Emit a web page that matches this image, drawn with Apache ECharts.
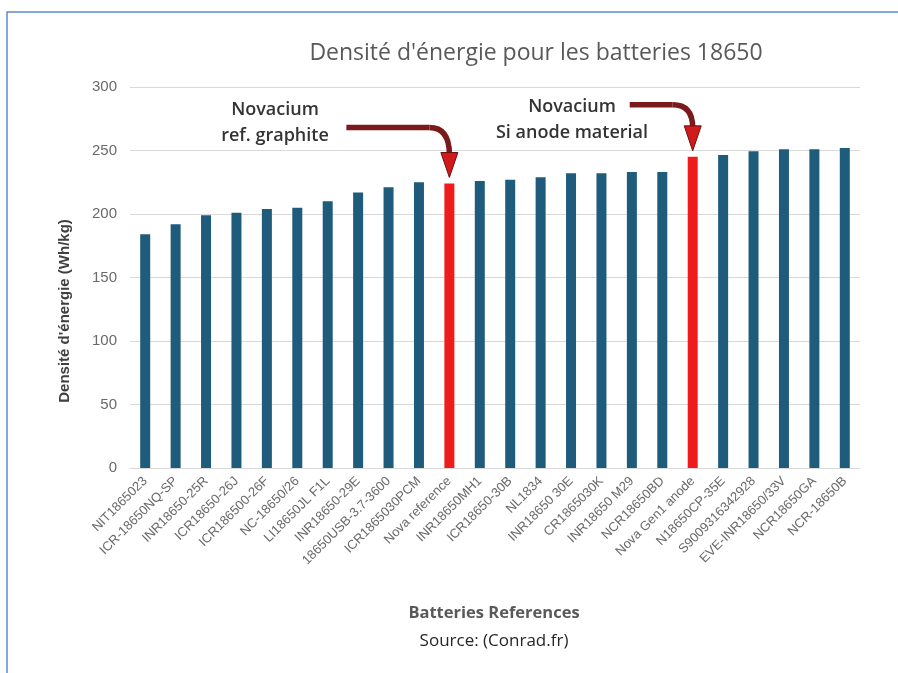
<!DOCTYPE html>
<html>
<head>
<meta charset="utf-8">
<script src="https://cdn.jsdelivr.net/npm/echarts@6/dist/echarts.min.js"></script>
<style>
html, body { margin: 0; padding: 0; background: #fff; }
#chart { width: 898px; height: 673px; }
</style>
</head>
<body>
<div id="chart"></div>
<script>
// data
var categories = [
    'NIT1865023', 'ICR-18650NQ-SP', 'INR18650-25R', 'ICR18650-26J', 'ICR186500-26F',
    'NC-18650/26', 'LI18650JL F1L', 'INR18650-29E', '18650USB-3.7-3600', 'ICR1865030PCM',
    'Nova reference', 'INR18650MH1', 'ICR18650-30B', 'NL1834', 'INR18650 30E',
    'CR1865030K', 'INR18650 M29', 'NCR18650BD', 'Nova Gen1 anode', 'N18650CP-35E',
    'S9009316342928', 'EVE-INR18650/33V', 'NCR18650GA', 'NCR-18650B'
];
var energyDensity = [
    184, 192, 199, 201, 204,
    205, 210, 217, 221, 225,
    224, 226, 227, 229, 232,
    232, 233, 233, 245, 246.5,
    249.5, 251, 251, 252
];
var highlighted = ['Nova reference', 'Nova Gen1 anode'];
var yTicks = [0, 50, 100, 150, 200, 250, 300];

var title = "Densité d'énergie pour les batteries 18650";
var yTitle = "Densité d'énergie (Wh/kg)";
var xTitle = 'Batteries References';
var source = 'Source: (Conrad.fr)';

var BAR = '#1f5b7a';
var RED = '#ee1c1c';
var FONT = '"Liberation Sans", Arial, sans-serif';
var WIDE = '"Open Sans", "Liberation Sans", sans-serif';

var chart = echarts.init(document.getElementById('chart'));

chart.setOption({
    animation: false,
    backgroundColor: '#fff',
    grid: { left: 130, right: 38, top: 87, bottom: 205, containLabel: false },
    xAxis: {
        type: 'category',
        data: categories,
        axisLine: { lineStyle: { color: '#d9d9d9' } },
        axisTick: { show: false },
        axisLabel: {
            rotate: 45, interval: 0, margin: 11,
            color: '#6a6a6a', fontSize: 13, fontFamily: FONT
        }
    },
    yAxis: {
        type: 'value',
        min: yTicks[0],
        max: yTicks[yTicks.length - 1],
        interval: yTicks[1] - yTicks[0],
        axisLine: { show: false },
        axisTick: { show: false },
        splitLine: { lineStyle: { color: '#d9d9d9' } },
        axisLabel: { color: '#6a6a6a', fontSize: 15, margin: 13, fontFamily: FONT }
    },
    series: [{
        type: 'bar',
        barWidth: 10,
        data: energyDensity.map(function (v, i) {
            return {
                value: v,
                itemStyle: { color: highlighted.indexOf(categories[i]) >= 0 ? RED : BAR }
            };
        })
    }]
});

// arrow from a text label down to the top of a bar
function arrow(name, dxStart, dyBend) {
    var idx = categories.indexOf(name);
    var p = chart.convertToPixel({ seriesIndex: 0 }, [idx, energyDensity[idx]]);
    var bx = p[0], tipY = p[1] - 6, bendY = p[1] - dyBend;
    var r = 20, headLen = 25, half = 8.5;
    var lineStyle = { stroke: '#7a1a1a', lineWidth: 5.5, fill: null };
    return [
        { type: 'line', shape: { x1: bx - dxStart, y1: bendY, x2: bx - r, y2: bendY }, style: lineStyle },
        { type: 'bezierCurve', shape: { x1: bx - r, y1: bendY, x2: bx, y2: tipY - headLen + 2, cpx1: bx, cpy1: bendY }, style: lineStyle },
        {
            type: 'polygon',
            shape: { points: [[bx - half, tipY - headLen], [bx + half, tipY - headLen], [bx, tipY]] },
            style: { fill: '#d11a1a', stroke: '#6a1010', lineWidth: 1 }
        }
    ];
}

var annoStyle = { fill: '#333', fontSize: 18, fontWeight: 600, fontFamily: WIDE, textAlign: 'center', lineHeight: 26 };

var elements = [
    {
        type: 'rect', silent: true,
        shape: { x: 7, y: 12, width: 1000, height: 1000 },
        style: { fill: null, stroke: '#5b8bd6', lineWidth: 1.5 }
    },
    {
        type: 'text', x: 536, y: 53,
        style: { text: title, fill: '#595959', fontSize: 23, fontFamily: WIDE, textAlign: 'center', textVerticalAlign: 'middle' }
    },
    {
        type: 'text', x: 65, y: 311, rotation: Math.PI / 2,
        style: { text: yTitle, fill: '#404040', fontSize: 15, fontWeight: 'bold', fontFamily: FONT, textAlign: 'center', textVerticalAlign: 'middle' }
    },
    {
        type: 'text', x: 494, y: 613,
        style: { text: xTitle, fill: '#595959', fontSize: 16.5, fontWeight: 'bold', fontFamily: WIDE, textAlign: 'center', textVerticalAlign: 'middle' }
    },
    {
        type: 'text', x: 494, y: 641,
        style: { text: source, fill: '#262626', fontSize: 17, fontFamily: WIDE, textAlign: 'center', textVerticalAlign: 'middle' }
    },
    {
        type: 'text', x: 275, y: 97,
        style: Object.assign({ text: 'Novacium\nref. graphite' }, annoStyle)
    },
    {
        type: 'text', x: 572, y: 94,
        style: Object.assign({ text: 'Novacium\nSi anode material' }, annoStyle)
    }
];

elements = elements.concat(arrow('Nova reference', 103, 56), arrow('Nova Gen1 anode', 63, 52));

chart.setOption({ graphic: { elements: elements } });
</script>
</body>
</html>
